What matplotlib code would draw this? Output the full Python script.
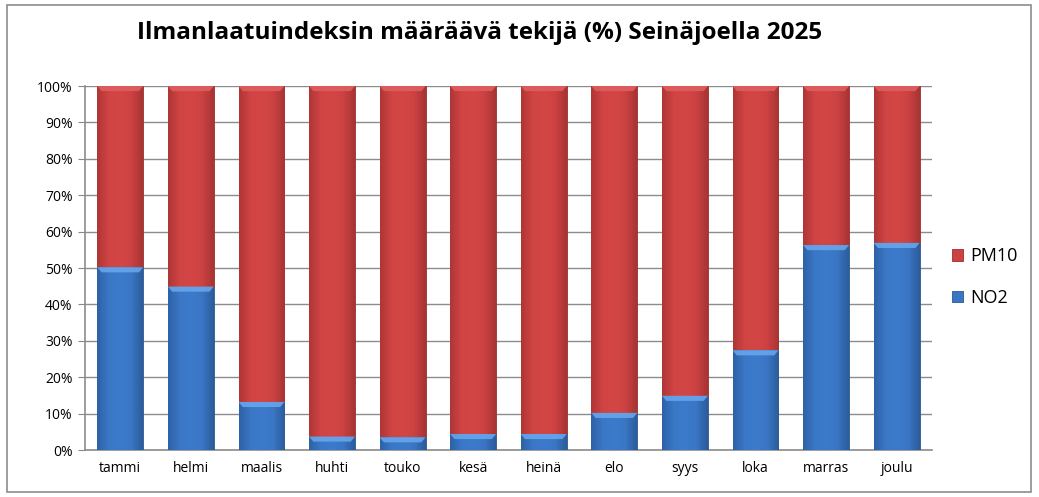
import numpy as np
import matplotlib
matplotlib.use("Agg")
import matplotlib.pyplot as plt
import matplotlib.patches as patches
from matplotlib.colors import LinearSegmentedColormap

months = ["tammi", "helmi", "maalis", "huhti", "touko", "kesä",
          "heinä", "elo", "syys", "loka", "marras", "joulu"]
no2 = [50.2, 44.9, 13.2, 3.7, 3.5, 4.4, 4.4, 10.2, 14.9, 27.4, 56.3, 56.9]
pm10 = [100 - v for v in no2]
title = "Ilmanlaatuindeksin määräävä tekijä (%) Seinäjoella 2025"

plt.rcParams['font.family'] = ['Open Sans', 'DejaVu Sans']

fig = plt.figure(figsize=(10.39, 4.97), dpi=100)
ax = fig.add_axes([85 / 1039, 1 - 450 / 497, 847 / 1039, 364 / 497])

blue_cm = LinearSegmentedColormap.from_list("b", ["#2e62a6", "#3a77c6", "#3c7acb", "#3a76c4", "#2c5c9c"])
red_cm = LinearSegmentedColormap.from_list("r", ["#b03636", "#d04444", "#d44646", "#cc4242", "#a83434"])
grad = np.linspace(0, 1, 64).reshape(1, -1)

x = np.arange(len(months))
w = 0.65
b1 = ax.bar(x, no2, w, color="#3a76c4", edgecolor="#2a5892", linewidth=0.6, label="NO2", zorder=3)
b2 = ax.bar(x, pm10, w, bottom=no2, color="#cc4242", edgecolor="#9e2e2e", linewidth=0.6, label="PM10", zorder=3)

# gradient fill clipped to each bar, plus a bevelled top edge
for bars, cm, light in ((b1, blue_cm, "#6aa8ee"), (b2, red_cm, "#e26060")):
    for r in bars:
        x0, y0 = r.get_x(), r.get_y()
        bw, bh = r.get_width(), r.get_height()
        im = ax.imshow(grad, cmap=cm, aspect="auto", zorder=3.5,
                       extent=(x0, x0 + bw, y0, y0 + bh))
        im.set_clip_path(r)
        hl = min(1.4, bh * 0.5)
        top = y0 + bh
        ax.add_patch(patches.Polygon([(x0, top), (x0 + bw, top), (x0 + bw - 0.06, top - hl), (x0 + 0.06, top - hl)],
                                     closed=True, facecolor=light, edgecolor="none", alpha=0.85, zorder=3.6))

ax.set_xlim(-0.5, len(months) - 0.5)
ax.set_ylim(0, 100)
ax.set_yticks(range(0, 101, 10))
ax.set_yticklabels([f"{v}%" for v in range(0, 101, 10)], fontsize=10)
ax.set_xticks(x)
ax.set_xticklabels(months, fontsize=10)
ax.tick_params(axis="x", length=0, pad=8)
ax.tick_params(axis="y", length=5, color="#888888", pad=4)
ax.grid(axis="y", color="#8c8c8c", linewidth=1, zorder=0)
for s in ("top", "right"):
    ax.spines[s].set_visible(False)
for s in ("left", "bottom"):
    ax.spines[s].set_color("#8c8c8c")
    ax.spines[s].set_linewidth(1.2)

h, l = ax.get_legend_handles_labels()
fig.legend(h[::-1], l[::-1], loc="center left", bbox_to_anchor=(936 / 1039, 1 - 277 / 497),
           frameon=False, fontsize=13, handlelength=0.6, handleheight=0.6,
           labelspacing=1.3, handletextpad=0.4)

fig.text(480 / 1039, 1 - 33 / 497, title, ha="center", va="center", fontsize=17.5, fontweight="bold")

fig.patches.append(patches.Rectangle((7 / 1039, 5 / 497), 1024 / 1039, 487 / 497, transform=fig.transFigure,
                                     facecolor="none", edgecolor="#8c8c8c", linewidth=1.2))

fig.savefig("out.png", dpi=100)
